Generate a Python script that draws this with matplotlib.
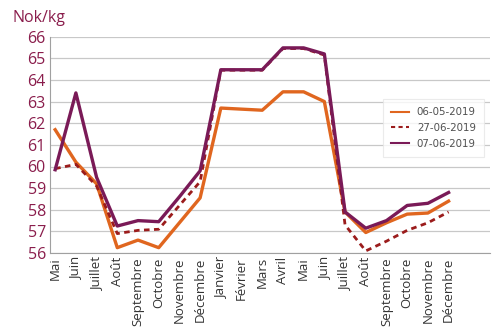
import matplotlib.pyplot as plt
import numpy as np

mois = ["Mai", "Juin", "Juillet", "Août", "Septembre", "Octobre", "Novembre", "Décembre",
        "Janvier", "Février", "Mars", "Avril", "Mai", "Juin", "Juillet", "Août",
        "Septembre", "Octobre", "Novembre", "Décembre"]

prix_0605 = [61.7, 60.2, 59.2, 56.25, 56.6, 56.25, 57.4, 58.55, 62.7, 62.65, 62.6, 63.45,
             63.45, 63.0, 57.9, 56.95, 57.4, 57.8, 57.85, 58.4]
prix_2706 = [59.9, 60.1, 59.1, 56.9, 57.05, 57.1, 58.2, 59.3, 64.45, 64.45, 64.45, 65.45,
             65.45, 65.15, 57.3, 56.1, 56.55, 57.05, 57.4, 57.9]
prix_0706 = [59.85, 63.4, 59.5, 57.25, 57.5, 57.45, 58.6, 59.8, 64.47, 64.47, 64.47, 65.48,
             65.48, 65.2, 57.9, 57.15, 57.5, 58.2, 58.3, 58.8]

magenta = "#8a1d4c"
orange = "#e0661f"
rouge = "#9b1c1c"
violet = "#7a1a57"

fig = plt.figure(figsize=(5, 3.33), dpi=100)
ax = fig.add_axes([0.10, 0.24, 0.88, 0.65])

x = np.arange(len(mois))
ax.plot(x, prix_0605, color=orange, lw=2.4, label="06-05-2019")
ax.plot(x, prix_2706, color=rouge, lw=2.0, ls=(0, (2, 1.6)), label="27-06-2019")
ax.plot(x, prix_0706, color=violet, lw=2.4, label="07-06-2019")

ax.set_ylim(56, 66)
ax.set_yticks(range(56, 67))
ax.set_xlim(-0.25, 21.0)
ax.set_xticks(x)
ax.set_xticklabels(mois, rotation=90, fontsize=9.5, color="#333333", family="Open Sans")
for lab in ax.get_yticklabels():
    lab.set_fontsize(11.5)
    lab.set_color(magenta)
    lab.set_family("Open Sans")

ax.grid(axis="y", color="#c8c8c8", lw=0.9)
ax.set_axisbelow(True)
ax.tick_params(axis="both", length=0, pad=3)
for s in ["top", "right"]:
    ax.spines[s].set_visible(False)
ax.spines["left"].set_color("#a0a0a0")
ax.spines["left"].set_linewidth(0.8)
ax.spines["bottom"].set_color("#a0a0a0")
ax.spines["bottom"].set_linewidth(0.8)

fig.text(0.024, 0.935, "Nok/kg", fontsize=11.5, color=magenta, family="Open Sans")

leg = ax.legend(loc="upper left", bbox_to_anchor=(0.745, 0.735), fontsize=7.4,
                frameon=True, fancybox=False, handlelength=1.7, borderpad=0.8,
                labelspacing=0.55)
leg.get_frame().set_edgecolor("#e6e6e6")
leg.get_frame().set_linewidth(0.8)
for t in leg.get_texts():
    t.set_color("#505050")
for h in leg.get_lines():
    h.set_linewidth(1.5)

fig.savefig("out.png", dpi=100)
